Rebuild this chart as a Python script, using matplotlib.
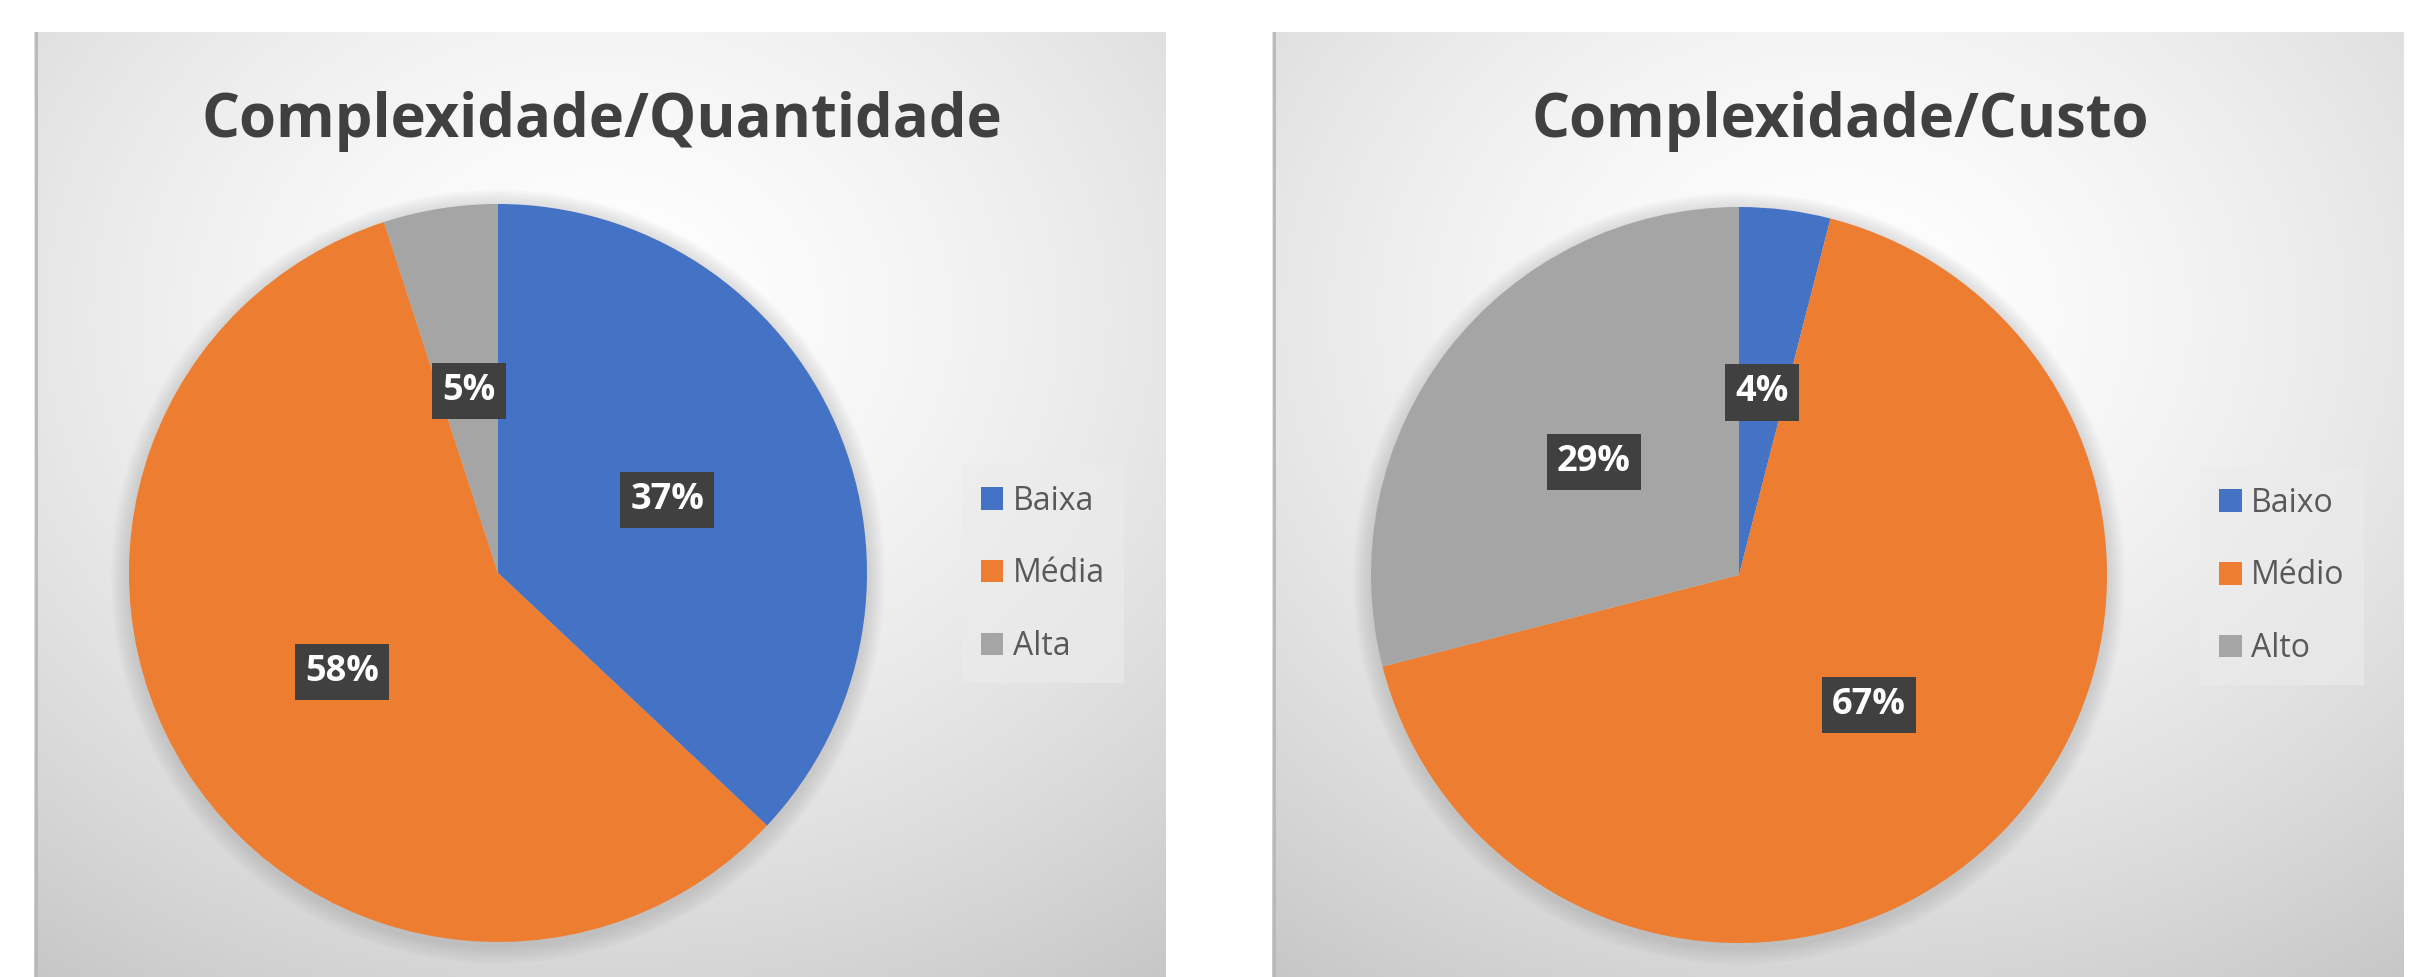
import numpy as np
import matplotlib
matplotlib.use('Agg')
import matplotlib.pyplot as plt

plt.rcParams['font.family'] = ['Open Sans', 'DejaVu Sans']

# data
qtd_labels = ['Baixa', 'Média', 'Alta']
qtd_values = [37, 58, 5]
custo_labels = ['Baixo', 'Médio', 'Alto']
custo_values = [4, 67, 29]
colors = ['#4472C4', '#ED7D31', '#A5A5A5']

W, H = 2424, 977
fig = plt.figure(figsize=(W / 100, H / 100), dpi=100)
fig.patch.set_facecolor('white')


def rect(x0, y0, x1, y1):
    # pixel box (top-left origin) -> figure fraction
    return [x0 / W, 1 - y1 / H, (x1 - x0) / W, (y1 - y0) / H]


def panel(x0, y0, x1, y1):
    ax = fig.add_axes(rect(x0, y0, x1, y1))
    ny, nx = 300, 360
    xx, yy = np.meshgrid(np.linspace(0, 1, nx), np.linspace(0, 1, ny))
    d = np.sqrt((xx - 0.5) ** 2 + (yy - 0.3) ** 2)
    v = 1 - 0.277 * d ** 1.53
    img = np.dstack([v, v, v])
    ax.imshow(img, extent=[0, 1, 1, 0], aspect='auto', interpolation='bilinear')
    ax.plot([0.002, 0.002], [0, 1], color='#b8b8b8', lw=2)
    ax.set_xlim(0, 1)
    ax.set_ylim(1, 0)
    ax.axis('off')


def pie_chart(cx, cy, r, values, labels, title, tx, leg_x, leg_y):
    ax = fig.add_axes(rect(cx - r, cy - r, cx + r, cy + r))
    ax.axis('off')
    # soft shadow
    for i in range(8):
        ax.add_patch(plt.Circle((0.0, -0.01), 1.0 + 0.006 * (i + 1), color='#808080',
                                alpha=0.035, lw=0, zorder=0, clip_on=False))
    wedges, _, autotexts = ax.pie(values, colors=colors, startangle=90, counterclock=False,
                                  autopct='%1.0f%%', pctdistance=0.5, radius=1,
                                  wedgeprops=dict(linewidth=0))
    ax.set_xlim(-1, 1)
    ax.set_ylim(-1, 1)
    ax.set_aspect('equal')
    for t in autotexts:
        t.set_color('white')
        t.set_fontsize(26)
        t.set_fontweight('bold')
        t.set_bbox(dict(boxstyle='square,pad=0.28', fc='#404040', ec='none'))
    fig.text(tx / W, 1 - 121 / H, title, ha='center', va='center', fontsize=43,
             fontweight='bold', color='#404040')
    fig.legend(wedges, labels, loc='center left', bbox_to_anchor=(leg_x / W, 1 - leg_y / H),
               frameon=True, facecolor='#ececec', edgecolor='none', framealpha=0.6,
               fontsize=23, labelcolor='#595959', handlelength=0.7, handleheight=0.7,
               handletextpad=0.3, labelspacing=1.25, borderpad=0.6, fancybox=False)


panel(34, 32, 1166, 977)
panel(1272, 32, 2403, 977)
pie_chart(498, 573, 369, qtd_values, qtd_labels, 'Complexidade/Quantidade', 602, 946, 574)
pie_chart(1739, 575, 368, custo_values, custo_labels, 'Complexidade/Custo', 1840, 2184, 576)

fig.savefig('out.png', dpi=100, facecolor='white')
